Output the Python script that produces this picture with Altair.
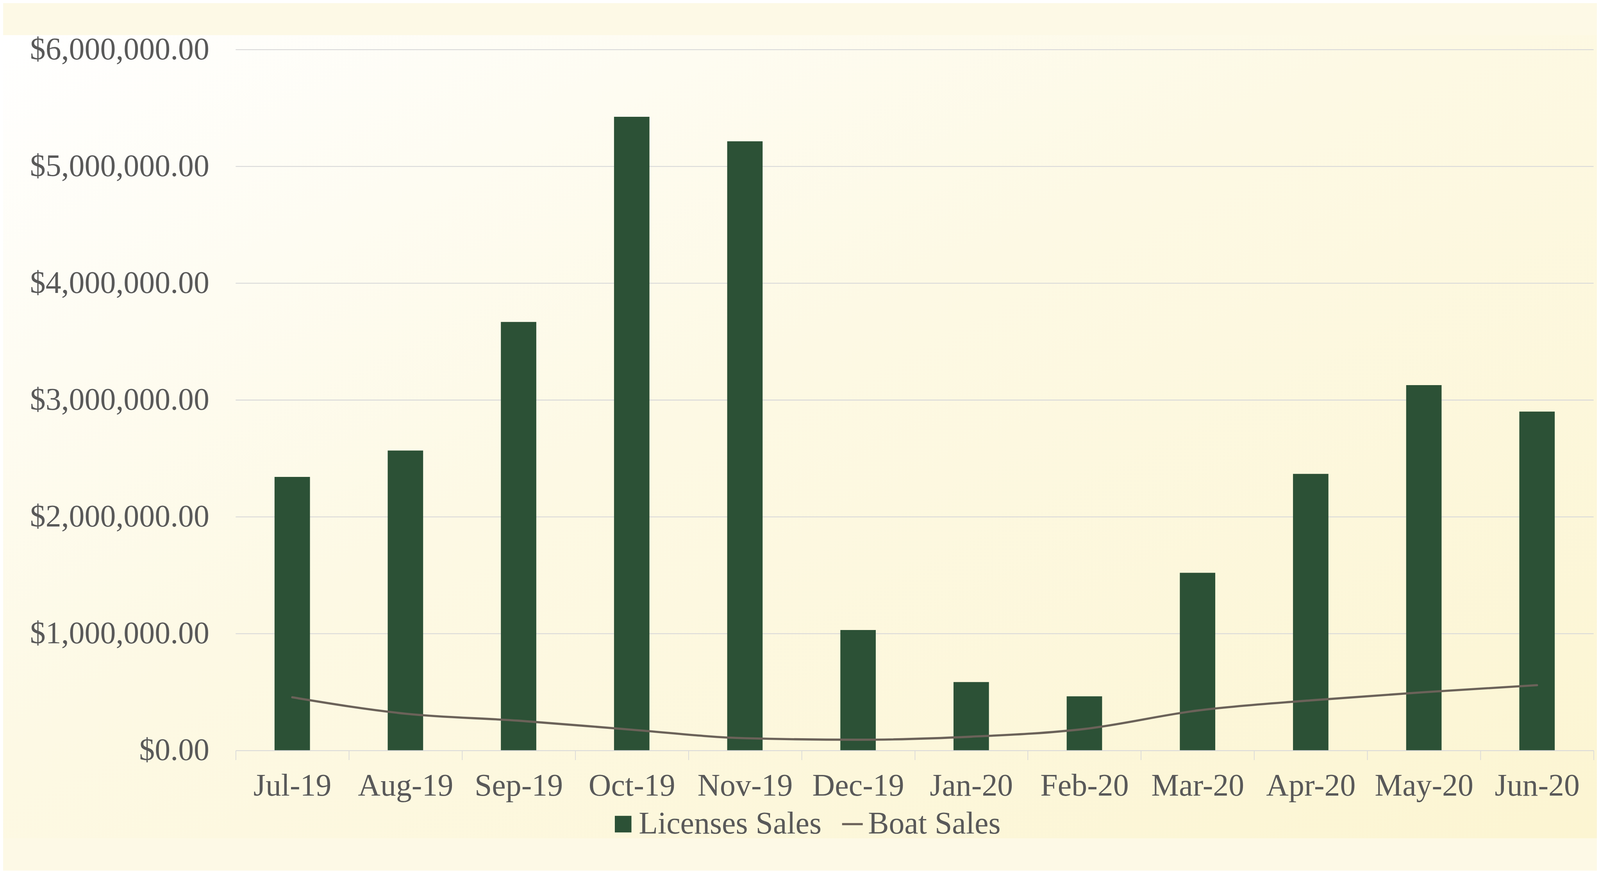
import altair as alt
import pandas as pd

# ---- data ----
months = ["Jul-19", "Aug-19", "Sep-19", "Oct-19", "Nov-19", "Dec-19",
          "Jan-20", "Feb-20", "Mar-20", "Apr-20", "May-20", "Jun-20"]
licenses_sales = [2342000, 2568000, 3669000, 5425000, 5215000, 1031000,
                  586000, 464000, 1521000, 2368000, 3128000, 2901000]
boat_sales = [455000, 315000, 255000, 178000, 105000, 92000,
              118000, 184000, 342000, 429000, 499000, 559000]
y_ticks = [0, 1000000, 2000000, 3000000, 4000000, 5000000, 6000000]
grid_values = [1000000, 2000000, 3000000, 4000000, 5000000, 6000000]
series_names = ["Licenses Sales", "Boat Sales"]

df = pd.DataFrame({"month": months, "licenses": licenses_sales, "boat": boat_sales})
grid_df = pd.DataFrame({"v": grid_values})
bg_df = pd.DataFrame({"k": [0]})

FONT = "Liberation Serif"
TEXT = "#595959"
GRID = "#D9D9D9"
BAR = "#2C5136"
LINE = "#6B6259"
FS = 86

W, H = 3743, 1932
# page area around the plot (left, top, right, bottom), drawn by the background panel
AROUND = {"left": 641, "top": 40, "right": 9, "bottom": 242}

x_scale = alt.Scale(domain=months, paddingInner=0, paddingOuter=0)
x_axis = alt.Axis(title=None, labelAngle=0, tickBand="extent", tickSize=26,
                  tickWidth=2, tickColor=GRID, domainColor=GRID, domainWidth=2.5,
                  labelFont=FONT, labelFontSize=FS, labelColor=TEXT, labelLimit=0,
                  labelPadding=98, labelBaseline="alphabetic", grid=False, zindex=1)
y_scale = alt.Scale(domain=[0, 6000000], nice=False, zero=True)
y_axis = alt.Axis(title=None, values=y_ticks, format="$,.2f", domain=False,
                  ticks=False, grid=False, labelFont=FONT, labelFontSize=FS,
                  labelColor=TEXT, labelPadding=73, labelLimit=0, zindex=1)

background = alt.Chart(bg_df).mark_rect(
    fill=alt.LinearGradient(
        gradient="linear", x1=0, y1=0, x2=1, y2=1,
        stops=[alt.GradientStop(color="#FFFFFF", offset=0),
               alt.GradientStop(color="#FDF9E4", offset=0.45),
               alt.GradientStop(color="#FCF5D2", offset=1)],
    )
).encode(
    x=alt.value(-AROUND["left"]), x2=alt.value(W + AROUND["right"]),
    y=alt.value(-AROUND["top"]), y2=alt.value(H + AROUND["bottom"]),
)

grid = alt.Chart(grid_df).mark_rule(color=GRID, strokeWidth=2.5).encode(
    y=alt.Y("v:Q", scale=y_scale, axis=y_axis)
)

bars = alt.Chart(df).transform_calculate(series="'Licenses Sales'").mark_bar(
    width=alt.RelativeBandSize(0.313)
).encode(
    x=alt.X("month:N", scale=x_scale, axis=x_axis),
    y=alt.Y("licenses:Q", scale=y_scale, axis=y_axis),
    fill=alt.Fill("series:N",
                  scale=alt.Scale(domain=[series_names[0]], range=[BAR]),
                  legend=alt.Legend(orient="none", legendX=1025, legendY=2092,
                                    title=None, symbolType="square", symbolSize=2100,
                                    symbolStrokeWidth=0, labelFont=FONT, labelLimit=0,
                                    labelFontSize=FS, labelColor=TEXT, labelOffset=0)),
)

line = alt.Chart(df).transform_calculate(series="'Boat Sales'").mark_line(
    strokeWidth=6, interpolate="monotone", strokeCap="round"
).encode(
    x=alt.X("month:N", scale=x_scale, axis=x_axis),
    y=alt.Y("boat:Q", scale=y_scale, axis=y_axis),
    stroke=alt.Stroke("series:N",
                      scale=alt.Scale(domain=[series_names[1]], range=[LINE]),
                      legend=alt.Legend(orient="none", legendX=1657, legendY=2092,
                                        title=None, symbolType="stroke", symbolSize=3249,
                                        symbolStrokeWidth=6, labelFont=FONT, labelLimit=0,
                                        labelFontSize=FS, labelColor=TEXT, labelOffset=0)),
)

chart = alt.layer(background, grid, bars, line).properties(
    width=W, height=H, padding=0,
).configure_view(strokeWidth=0).configure(background="#FDF9E6")

chart.save("out.html", embed_options={"renderer": "svg", "actions": False})
